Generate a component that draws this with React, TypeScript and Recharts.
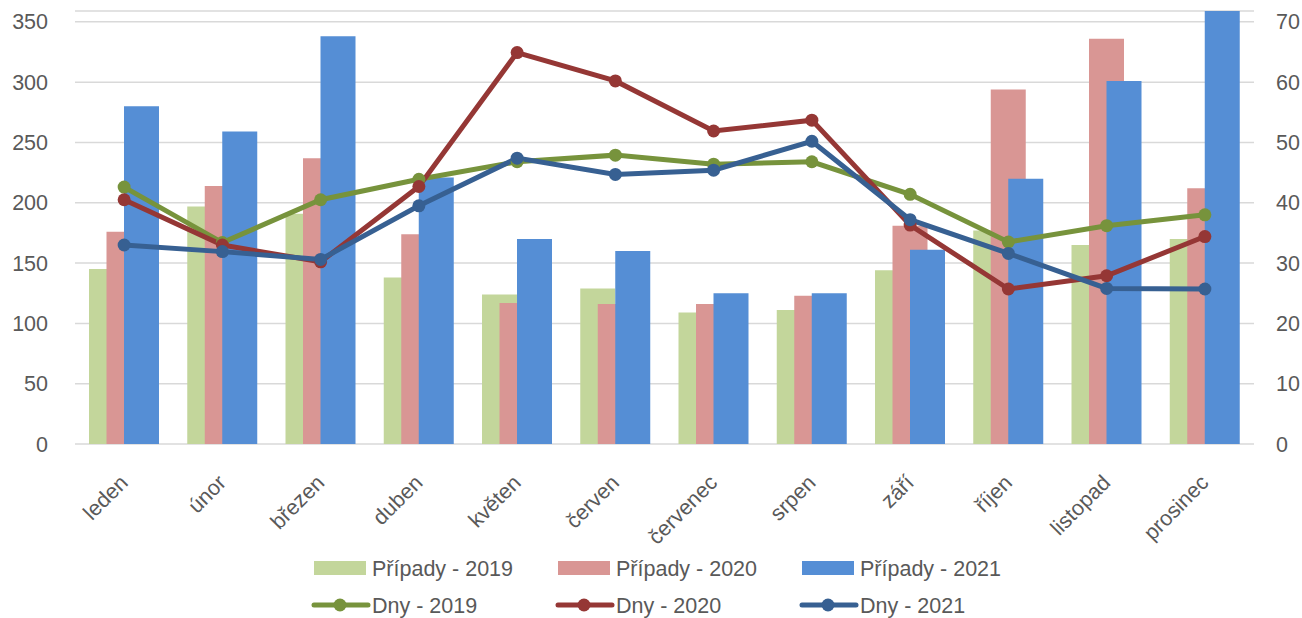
import { ComposedChart, Bar, Line, XAxis, YAxis, CartesianGrid } from "recharts";

// months on the category axis
const categories = [
    "leden", "únor", "březen", "duben", "květen", "červen",
    "červenec", "srpen", "září", "říjen", "listopad", "prosinec",
];

// bar series (left axis)
const pripady2019 = [145, 197, 191, 138, 124, 129, 109, 111, 144, 177, 165, 170];
const pripady2020 = [176, 214, 237, 174, 117, 116, 116, 123, 181, 294, 336, 212];
const pripady2021 = [280, 259, 338, 221, 170, 160, 125, 125, 161, 220, 301, 359];

// line series (right axis)
const dny2019 = [42.6, 33.4, 40.5, 43.9, 46.8, 47.9, 46.4, 46.8, 41.4, 33.5, 36.2, 38.0];
const dny2020 = [40.5, 33.0, 30.2, 42.7, 64.9, 60.2, 51.9, 53.7, 36.3, 25.7, 27.9, 34.4];
const dny2021 = [33.0, 31.9, 30.6, 39.5, 47.4, 44.7, 45.4, 50.2, 37.2, 31.6, 25.8, 25.7];

const leftTicks = [0, 50, 100, 150, 200, 250, 300, 350];
const rightTicks = [0, 10, 20, 30, 40, 50, 60, 70];

const data = categories.map((name, i) => ({
    name,
    p2019: pripady2019[i],
    p2020: pripady2020[i],
    p2021: pripady2021[i],
    d2019: dny2019[i],
    d2020: dny2020[i],
    d2021: dny2021[i],
}));

const FONT = "'Liberation Sans', Arial, sans-serif";
const TEXT = "#595959";

const BAR_COLORS = { p2019: "#c3d69b", p2020: "#d99694", p2021: "#558ed5" };
const LINE_COLORS = { d2019: "#77933c", d2020: "#953735", d2021: "#376092" };

function MonthTick({ x, y, payload }: any) {
    const tx = x + 5;
    const ty = y + 32;
    return (
        <text
            x={tx}
            y={ty}
            transform={`rotate(-45, ${tx}, ${ty})`}
            textAnchor="end"
            fill={TEXT}
            fontSize={21.5}
            fontFamily={FONT}
        >
            {payload.value}
        </text>
    );
}

const legendRows = [
    [
        { label: "Případy - 2019", color: BAR_COLORS.p2019, kind: "bar" },
        { label: "Případy - 2020", color: BAR_COLORS.p2020, kind: "bar" },
        { label: "Případy - 2021", color: BAR_COLORS.p2021, kind: "bar" },
    ],
    [
        { label: "Dny - 2019", color: LINE_COLORS.d2019, kind: "line" },
        { label: "Dny - 2020", color: LINE_COLORS.d2020, kind: "line" },
        { label: "Dny - 2021", color: LINE_COLORS.d2021, kind: "line" },
    ],
];

function LegendBlock() {
    return (
        <svg width={1302} height={618} style={{ position: "absolute", left: 0, top: 0, pointerEvents: "none" }}>
            {legendRows.map((row, r) =>
                row.map((item, c) => {
                    const x = 314 + c * 244;
                    const cy = r === 0 ? 568 : 605;
                    return (
                        <g key={item.label}>
                            {item.kind === "bar" ? (
                                <rect x={x} y={cy - 7} width={52} height={14} fill={item.color} />
                            ) : (
                                <g>
                                    <line x1={x} y1={cy} x2={x + 54} y2={cy} stroke={item.color} strokeWidth={5} strokeLinecap="round" />
                                    <circle cx={x + 26} cy={cy} r={6.5} fill={item.color} />
                                </g>
                            )}
                            <text
                                x={x + 58}
                                y={cy}
                                dy="0.36em"
                                fill={TEXT}
                                fontSize={21.5}
                                fontFamily={FONT}
                            >
                                {item.label}
                            </text>
                        </g>
                    );
                })
            )}
        </svg>
    );
}

export default function App() {
    return (
        <div style={{ position: "absolute", left: 0, top: 0, width: 1302, height: 618, background: "#fff" }}>
            <ComposedChart
                width={1302}
                height={618}
                data={data}
                margin={{ top: 11, right: 0, bottom: 0, left: 0 }}
                barSize={35}
                barGap={-17.5}
                barCategoryGap={0}
            >
                <CartesianGrid yAxisId="left" vertical={false} stroke="#d9d9d9" strokeWidth={1.5} />
                <XAxis
                    dataKey="name"
                    height={174}
                    axisLine={false}
                    tickLine={false}
                    interval={0}
                    tick={<MonthTick />}
                />
                <YAxis
                    yAxisId="left"
                    width={75}
                    domain={[0, 359]}
                    ticks={leftTicks}
                    axisLine={false}
                    tickLine={false}
                    tickSize={0}
                    tickMargin={27}
                    tick={{ fill: TEXT, fontSize: 21.5, fontFamily: FONT }}
                />
                <YAxis
                    yAxisId="right"
                    orientation="right"
                    width={48}
                    domain={[0, 71.8]}
                    ticks={rightTicks}
                    axisLine={false}
                    tickLine={false}
                    tickSize={0}
                    tickMargin={22}
                    tick={{ fill: TEXT, fontSize: 21.5, fontFamily: FONT, textAnchor: "start" }}
                />
                <Bar yAxisId="left" dataKey="p2019" fill={BAR_COLORS.p2019} isAnimationActive={false} />
                <Bar yAxisId="left" dataKey="p2020" fill={BAR_COLORS.p2020} isAnimationActive={false} />
                <Bar yAxisId="left" dataKey="p2021" fill={BAR_COLORS.p2021} isAnimationActive={false} />
                <Line
                    yAxisId="right"
                    dataKey="d2019"
                    stroke={LINE_COLORS.d2019}
                    strokeWidth={5}
                    dot={{ r: 6.5, fill: LINE_COLORS.d2019, stroke: "none" }}
                    isAnimationActive={false}
                />
                <Line
                    yAxisId="right"
                    dataKey="d2020"
                    stroke={LINE_COLORS.d2020}
                    strokeWidth={5}
                    dot={{ r: 6.5, fill: LINE_COLORS.d2020, stroke: "none" }}
                    isAnimationActive={false}
                />
                <Line
                    yAxisId="right"
                    dataKey="d2021"
                    stroke={LINE_COLORS.d2021}
                    strokeWidth={5}
                    dot={{ r: 6.5, fill: LINE_COLORS.d2021, stroke: "none" }}
                    isAnimationActive={false}
                />
            </ComposedChart>
            <LegendBlock />
        </div>
    );
}
